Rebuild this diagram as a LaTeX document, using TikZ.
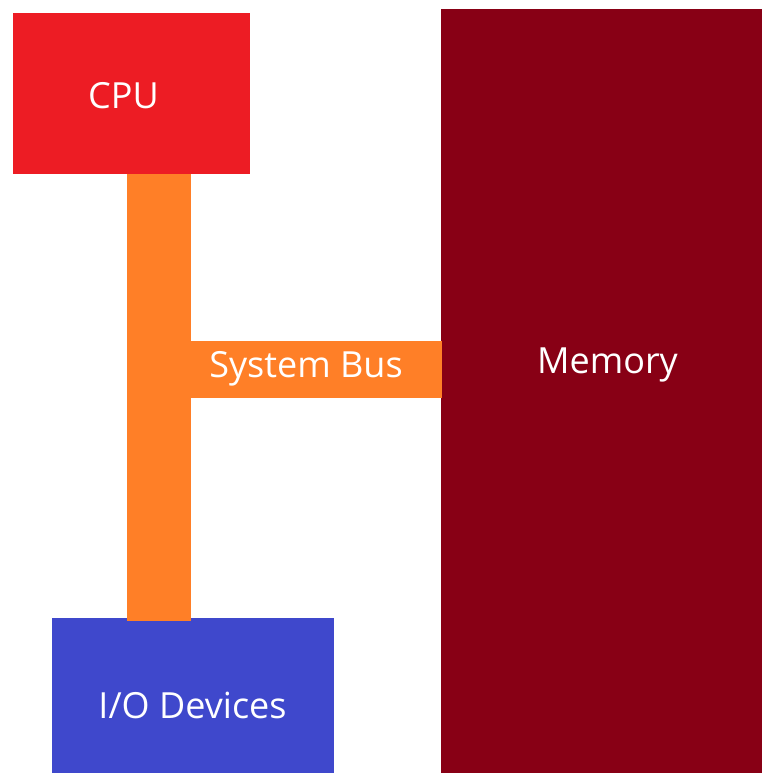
\documentclass[tikz,border=0pt]{standalone}
\usepackage{fontspec}
\setmainfont{Open Sans}
\definecolor{cpured}{HTML}{ED1C24}
\definecolor{busorange}{HTML}{FF7F27}
\definecolor{memred}{HTML}{880015}
\definecolor{ioblue}{HTML}{3F48CC}
\begin{document}
\begin{tikzpicture}[x=1pt,y=-1pt,
  block/.style={rectangle, inner sep=0pt, outer sep=0pt},
  busline/.style={busorange, line width=64pt, line cap=butt},
  lbl/.style={inner sep=0pt, text=white, font=\fontsize{36}{42}\selectfont}]
\useasboundingbox (0,0) rectangle (762,773);
\node[block, fill=cpured, minimum width=237pt, minimum height=161pt] (cpu) at (131.5,93.5) {};
\node[lbl] (cpulabel) at (123.5,96) {CPU};
\node[block, fill=memred, minimum width=321pt, minimum height=764pt] (mem) at (601.5,391.5) {};
\node[lbl] (memlabel) at (607.5,365) {Memory};
\node[block, fill=ioblue, minimum width=282pt, minimum height=157pt] (io) at (193,696.5) {};
\node[lbl] (iolabel) at (192.5,705) {I/O Devices};
\coordinate (bustop) at (159,174);
\coordinate (busbot) at (159,621);
\draw[busline] (bustop) -- (busbot);
\node[block, fill=busorange, minimum width=252pt, minimum height=57pt] (bar) at (316,369.5) {};
\node[lbl] (buslabel) at (306,369) {System Bus};
\end{tikzpicture}
\end{document}
